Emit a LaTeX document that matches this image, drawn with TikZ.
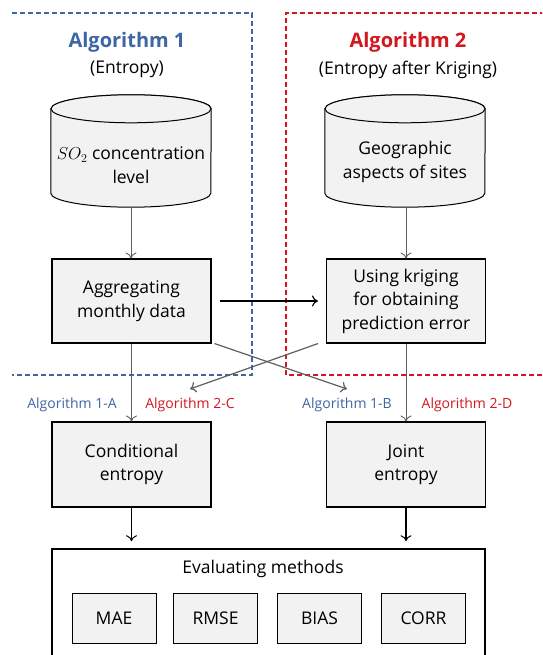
\documentclass[tikz,border=0pt]{standalone}
\usepackage{fontspec}
\setmainfont{Open Sans}
\usetikzlibrary{arrows.meta}
\definecolor{algblue}{RGB}{62,102,165}
\definecolor{algred}{RGB}{212,22,30}
\definecolor{boxgray}{RGB}{242,242,242}
\definecolor{arrgray}{RGB}{95,95,95}
\begin{document}
\begin{tikzpicture}[x=1pt,y=-1pt,
  body/.style={font=\fontsize{17.5}{23.5}\selectfont, align=center},
  procbox/.style={body, draw=black, line width=1.1pt, fill=boxgray, minimum width=159pt, minimum height=84pt, inner sep=0pt},
  cylbody/.style={body, minimum width=160pt, minimum height=84pt, inner sep=0pt},
  cylshape/.style={draw=black, line width=1pt, fill=boxgray},
  metricbox/.style={font=\fontsize{17.5}{20}\selectfont, draw=black, line width=1pt, fill=boxgray, minimum width=84pt, minimum height=50pt, inner sep=0pt},
  titlefont/.style={font=\fontsize{20}{24}\selectfont\bfseries},
  subfont/.style={font=\fontsize{17.5}{20}\selectfont},
  labelfont/.style={font=\fontsize{14}{16}\selectfont},
  grayarrow/.style={draw=arrgray, line width=0.9pt, -{To[length=6pt,width=11pt]}},
  diagarrow/.style={draw=arrgray, line width=1.2pt, -{To[length=6pt,width=11pt]}},
  blackarrow/.style={draw=black, line width=1.1pt, -{To[length=6pt,width=11pt]}},
  thickarrow/.style={draw=black, line width=1.8pt, -{To[length=6pt,width=11pt,line width=1pt]}},
  bluedash/.style={draw=algblue, line width=1.2pt, dash pattern=on 5pt off 3pt},
  reddash/.style={draw=algred, line width=1.2pt, dash pattern=on 5pt off 3pt}
]
\useasboundingbox (0,0) rectangle (542,655);
\clip (0,0) rectangle (542,655);
\fill[white] (0,0) rectangle (542,655);

% dashed algorithm frames
\coordinate (b1) at (12,13);
\coordinate (b2) at (252,13);
\coordinate (b3) at (252,375);
\coordinate (b4) at (12,375);
\draw[bluedash] (b1) -- (b2) -- (b3) -- (b4);
\coordinate (r1) at (545,13);
\coordinate (r2) at (286,13);
\coordinate (r3) at (286,375);
\coordinate (r4) at (545,375);
\draw[reddash] (r1) -- (r2) -- (r3) -- (r4);

% titles
\node[titlefont, text=algblue] (t1) at (127,42) {Algorithm 1};
\node[subfont] (s1) at (127,69) {(Entropy)};
\node[titlefont, text=algred] (t2) at (408,42) {Algorithm 2};
\node[subfont] (s2) at (408,70) {(Entropy after Kriging)};

% cylinders
\node[cylbody] (cyl1) at (131,165) {};
\node[cylbody] (cyl2) at (405,165) {};
\foreach \c in {cyl1,cyl2}{
  \path[cylshape] ([yshift=14pt]\c.north west) -- ([yshift=14pt]\c.south west)
     arc[start angle=180,end angle=360,x radius=80pt,y radius=14pt]
     -- ([yshift=14pt]\c.north east)
     arc[start angle=0,end angle=180,x radius=80pt,y radius=14pt] -- cycle;
  \draw[cylshape] ([yshift=14pt]\c.north) ellipse[x radius=80pt, y radius=14pt];
}
\node[body] (cyl1txt) at (cyl1) {$SO_2$ concentration\\level};
\node[body] (cyl2txt) at ([yshift=3pt]cyl2.center) {Geographic\\aspects of sites};

% process boxes
\node[procbox] (agg) at (131.5,301) {Aggregating\\monthly data};
\node[procbox] (krig) at (406,301) {Using kriging\\for obtaining\\prediction error};
\node[procbox, minimum height=85pt] (cond) at (131.5,464.5) {Conditional\\entropy};
\node[procbox, minimum height=85pt] (joint) at (406,464.5) {Joint\\entropy};

% arrows
\draw[grayarrow] (cyl1.south) -- (cyl1.south |- agg.north);
\draw[grayarrow] (cyl2.south -| krig.north) -- (krig.north);
\draw[blackarrow, shorten <=8pt, shorten >=8pt] (agg.east) -- (krig.west);
\coordinate (d1end) at (347,389);
\coordinate (d2end) at (190,389);
\draw[diagarrow] ([xshift=3pt]agg.south east) -- (d1end);
\draw[diagarrow] ([xshift=-8pt]krig.south west) -- (d2end);
\draw[grayarrow] (agg.south) -- (cond.north);
\draw[grayarrow] (krig.south) -- (joint.north);

% labels
\node[labelfont, text=algblue] (l1a) at (72,405) {Algorithm 1-A};
\node[labelfont, text=algred] (l2c) at (190,405) {Algorithm 2-C};
\node[labelfont, text=algblue] (l1b) at (347,405) {Algorithm 1-B};
\node[labelfont, text=algred] (l2d) at (467,405) {Algorithm 2-D};

% evaluation box
\node[draw=black, line width=1.6pt, fill=white, minimum width=433pt, minimum height=122pt, inner sep=0pt] (eval) at (268.5,610) {};
\node[subfont] (evtitle) at (263,569) {Evaluating methods};
\node[metricbox] (mae) at (114,618) {MAE};
\node[metricbox] (rmse) at (215.5,618) {RMSE};
\node[metricbox] (bias) at (319.5,618) {BIAS};
\node[metricbox] (corr) at (423.5,618) {CORR};

\draw[thickarrow, shorten >=7pt] (cond.south) -- (cond.south |- eval.north);
\draw[thickarrow, shorten >=7pt] (joint.south) -- (joint.south |- eval.north);
\end{tikzpicture}
\end{document}
